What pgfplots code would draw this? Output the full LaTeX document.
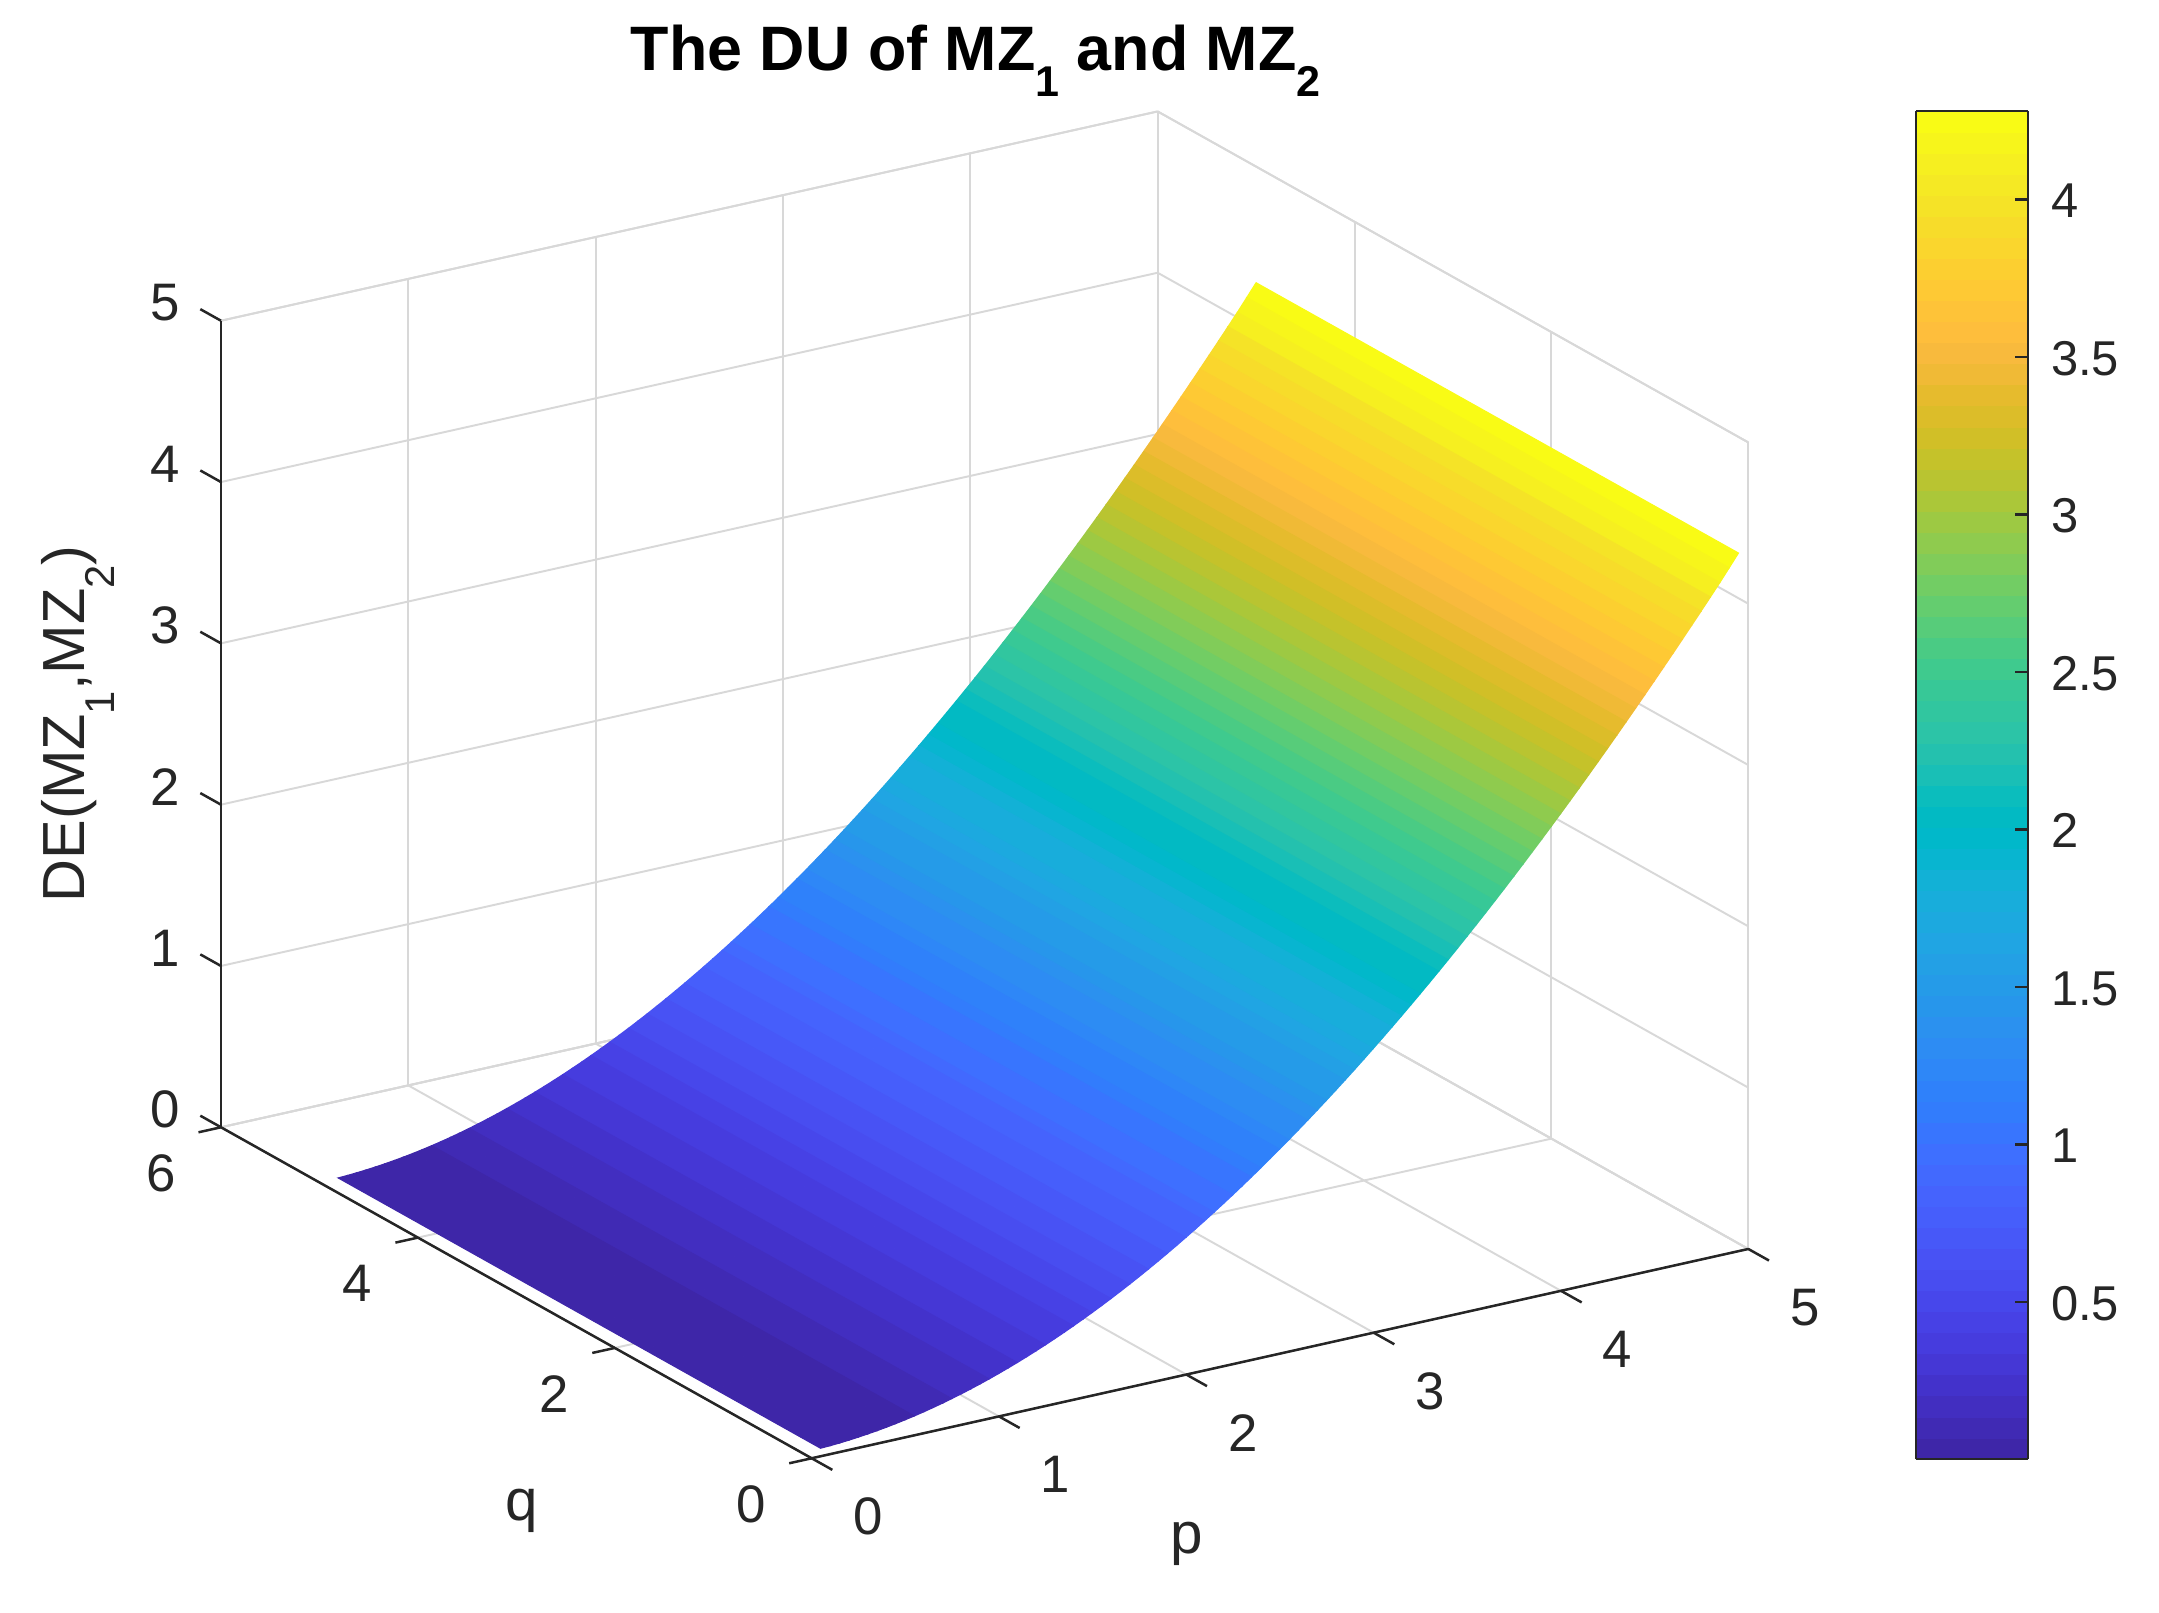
\documentclass[border=0pt]{standalone}
\usepackage{fontspec}
\setmainfont{Liberation Sans}
\usepackage{pgfplots}
\pgfplotsset{compat=1.18}
\pgfplotsset{
  colormap={parula}{
    rgb=(0.2422,0.1504,0.6603) rgb=(0.2504,0.1650,0.7076) rgb=(0.2578,0.1818,0.7511) rgb=(0.2647,0.1978,0.7952)
    rgb=(0.2706,0.2147,0.8364) rgb=(0.2751,0.2342,0.8710) rgb=(0.2783,0.2559,0.8991) rgb=(0.2803,0.2782,0.9221)
    rgb=(0.2813,0.3006,0.9414) rgb=(0.2810,0.3228,0.9579) rgb=(0.2795,0.3447,0.9717) rgb=(0.2760,0.3667,0.9829)
    rgb=(0.2699,0.3892,0.9906) rgb=(0.2602,0.4123,0.9952) rgb=(0.2440,0.4358,0.9988) rgb=(0.2206,0.4603,0.9973)
    rgb=(0.1963,0.4847,0.9892) rgb=(0.1834,0.5074,0.9798) rgb=(0.1786,0.5289,0.9682) rgb=(0.1764,0.5499,0.9520)
    rgb=(0.1687,0.5703,0.9359) rgb=(0.1540,0.5902,0.9218) rgb=(0.1460,0.6091,0.9079) rgb=(0.1380,0.6276,0.8973)
    rgb=(0.1248,0.6459,0.8883) rgb=(0.1113,0.6635,0.8763) rgb=(0.0952,0.6798,0.8598) rgb=(0.0689,0.6948,0.8394)
    rgb=(0.0297,0.7082,0.8163) rgb=(0.0036,0.7203,0.7917) rgb=(0.0067,0.7312,0.7660) rgb=(0.0433,0.7411,0.7394)
    rgb=(0.0964,0.7500,0.7120) rgb=(0.1408,0.7584,0.6842) rgb=(0.1717,0.7670,0.6554) rgb=(0.1938,0.7758,0.6251)
    rgb=(0.2161,0.7843,0.5923) rgb=(0.2470,0.7918,0.5567) rgb=(0.2906,0.7973,0.5188) rgb=(0.3406,0.8008,0.4789)
    rgb=(0.3909,0.8029,0.4354) rgb=(0.4456,0.8024,0.3909) rgb=(0.5044,0.7993,0.3480) rgb=(0.5616,0.7942,0.3045)
    rgb=(0.6174,0.7876,0.2612) rgb=(0.6720,0.7793,0.2227) rgb=(0.7242,0.7698,0.1910) rgb=(0.7738,0.7598,0.1646)
    rgb=(0.8203,0.7498,0.1535) rgb=(0.8634,0.7406,0.1596) rgb=(0.9035,0.7330,0.1774) rgb=(0.9393,0.7288,0.2100)
    rgb=(0.9728,0.7298,0.2394) rgb=(0.9956,0.7434,0.2371) rgb=(0.9970,0.7659,0.2199) rgb=(0.9952,0.7893,0.2028)
    rgb=(0.9892,0.8136,0.1885) rgb=(0.9786,0.8386,0.1766) rgb=(0.9676,0.8639,0.1643) rgb=(0.9610,0.8890,0.1537)
    rgb=(0.9597,0.9135,0.1423) rgb=(0.9628,0.9373,0.1265) rgb=(0.9691,0.9606,0.1064) rgb=(0.9769,0.9839,0.0805)
  },
  colormap access=piecewise constant
}
\definecolor{axdark}{RGB}{38,38,38}
\definecolor{gridc}{RGB}{216,216,216}
\newcommand{\tsub}[1]{\raisebox{-9.5pt}{\fontsize{15.5}{15.5}\selectfont\bfseries #1}}
\newcommand{\zsub}[1]{\raisebox{-10.5pt}{\fontsize{15}{15}\selectfont #1}}
\begin{document}
\begin{tikzpicture}
\path[use as bounding box] (0pt,0pt) rectangle (777.24pt,580.68pt);
\begin{axis}[
  at={(292.2pt,55.7pt)}, anchor=origin,
  x={(67.44pt,15.07pt)}, y={(-35.44pt,19.86pt)}, z={(0pt,58.07pt)},
  xmin=0, xmax=5, ymin=0, ymax=6, zmin=0, zmax=5,
  clip=false,
  colormap name=parula,
  point meta min=0.002, point meta max=4.28,
  xtick={0,1,2,3,4,5}, ytick={0,2,4,6}, ztick={0,1,2,3,4,5},
  major tick length=0pt,
  grid=major,
  grid style={draw=gridc, line width=0.7pt},
  axis line style={draw=gridc, line width=0.7pt},
  /pgf/number format/assume math mode=true,
  every tick label/.append style={font=\fontsize{19}{19}\selectfont, text=axdark},
  xticklabel style={anchor=center, xshift=20.3pt, yshift=-21pt},
  yticklabel style={anchor=center, xshift=-21.7pt, yshift=-16.5pt},
  zticklabel style={anchor=center, xshift=-20pt, yshift=6.4pt},
  xlabel={p}, ylabel={q}, zlabel={DE(MZ\zsub{1},MZ\zsub{2})},
  xlabel style={at={(axis cs:2,0,0)}, anchor=center, yshift=-61.1pt, font=\fontsize{21}{21}\selectfont, text=axdark},
  ylabel style={at={(axis cs:0,3,0)}, anchor=center, xshift=1.8pt, yshift=-78.5pt, font=\fontsize{21}{21}\selectfont, text=axdark},
  zlabel style={at={(axis cs:0,6,2.5)}, anchor=base, yshift=49pt, font=\fontsize{21.4}{21.4}\selectfont, text=axdark},
  title={\bfseries The DU of MZ\tsub{1} and MZ\tsub{2}},
  title style={at={(axis cs:5,6,5)}, anchor=base, xshift=-65.5pt, yshift=8.7pt, font=\fontsize{22.6}{22.6}\selectfont},
]
\addplot3[surf, shader=flat mean, mesh/rows=99, mesh/cols=2, point meta=z] coordinates {
(0.10,0.1,0.0020) (0.10,5,0.0020)
(0.15,0.1,0.0045) (0.15,5,0.0045)
(0.20,0.1,0.0081) (0.20,5,0.0081)
(0.25,0.1,0.0127) (0.25,5,0.0127)
(0.30,0.1,0.0183) (0.30,5,0.0183)
(0.35,0.1,0.0249) (0.35,5,0.0249)
(0.40,0.1,0.0324) (0.40,5,0.0324)
(0.45,0.1,0.0409) (0.45,5,0.0409)
(0.50,0.1,0.0504) (0.50,5,0.0504)
(0.55,0.1,0.0609) (0.55,5,0.0609)
(0.60,0.1,0.0723) (0.60,5,0.0723)
(0.65,0.1,0.0847) (0.65,5,0.0847)
(0.70,0.1,0.0981) (0.70,5,0.0981)
(0.75,0.1,0.1124) (0.75,5,0.1124)
(0.80,0.1,0.1277) (0.80,5,0.1277)
(0.85,0.1,0.1439) (0.85,5,0.1439)
(0.90,0.1,0.1611) (0.90,5,0.1611)
(0.95,0.1,0.1792) (0.95,5,0.1792)
(1.00,0.1,0.1982) (1.00,5,0.1982)
(1.05,0.1,0.2182) (1.05,5,0.2182)
(1.10,0.1,0.2390) (1.10,5,0.2390)
(1.15,0.1,0.2608) (1.15,5,0.2608)
(1.20,0.1,0.2835) (1.20,5,0.2835)
(1.25,0.1,0.3071) (1.25,5,0.3071)
(1.30,0.1,0.3315) (1.30,5,0.3315)
(1.35,0.1,0.3569) (1.35,5,0.3569)
(1.40,0.1,0.3831) (1.40,5,0.3831)
(1.45,0.1,0.4103) (1.45,5,0.4103)
(1.50,0.1,0.4383) (1.50,5,0.4383)
(1.55,0.1,0.4672) (1.55,5,0.4672)
(1.60,0.1,0.4969) (1.60,5,0.4969)
(1.65,0.1,0.5275) (1.65,5,0.5275)
(1.70,0.1,0.5590) (1.70,5,0.5590)
(1.75,0.1,0.5913) (1.75,5,0.5913)
(1.80,0.1,0.6245) (1.80,5,0.6245)
(1.85,0.1,0.6585) (1.85,5,0.6585)
(1.90,0.1,0.6934) (1.90,5,0.6934)
(1.95,0.1,0.7291) (1.95,5,0.7291)
(2.00,0.1,0.7656) (2.00,5,0.7656)
(2.05,0.1,0.8030) (2.05,5,0.8030)
(2.10,0.1,0.8411) (2.10,5,0.8411)
(2.15,0.1,0.8800) (2.15,5,0.8800)
(2.20,0.1,0.9198) (2.20,5,0.9198)
(2.25,0.1,0.9604) (2.25,5,0.9604)
(2.30,0.1,1.0017) (2.30,5,1.0017)
(2.35,0.1,1.0439) (2.35,5,1.0439)
(2.40,0.1,1.0868) (2.40,5,1.0868)
(2.45,0.1,1.1305) (2.45,5,1.1305)
(2.50,0.1,1.1750) (2.50,5,1.1750)
(2.55,0.1,1.2203) (2.55,5,1.2203)
(2.60,0.1,1.2663) (2.60,5,1.2663)
(2.65,0.1,1.3131) (2.65,5,1.3131)
(2.70,0.1,1.3606) (2.70,5,1.3606)
(2.75,0.1,1.4089) (2.75,5,1.4089)
(2.80,0.1,1.4579) (2.80,5,1.4579)
(2.85,0.1,1.5077) (2.85,5,1.5077)
(2.90,0.1,1.5582) (2.90,5,1.5582)
(2.95,0.1,1.6094) (2.95,5,1.6094)
(3.00,0.1,1.6614) (3.00,5,1.6614)
(3.05,0.1,1.7141) (3.05,5,1.7141)
(3.10,0.1,1.7675) (3.10,5,1.7675)
(3.15,0.1,1.8216) (3.15,5,1.8216)
(3.20,0.1,1.8764) (3.20,5,1.8764)
(3.25,0.1,1.9319) (3.25,5,1.9319)
(3.30,0.1,1.9881) (3.30,5,1.9881)
(3.35,0.1,2.0450) (3.35,5,2.0450)
(3.40,0.1,2.1025) (3.40,5,2.1025)
(3.45,0.1,2.1608) (3.45,5,2.1608)
(3.50,0.1,2.2197) (3.50,5,2.2197)
(3.55,0.1,2.2793) (3.55,5,2.2793)
(3.60,0.1,2.3395) (3.60,5,2.3395)
(3.65,0.1,2.4004) (3.65,5,2.4004)
(3.70,0.1,2.4620) (3.70,5,2.4620)
(3.75,0.1,2.5242) (3.75,5,2.5242)
(3.80,0.1,2.5871) (3.80,5,2.5871)
(3.85,0.1,2.6506) (3.85,5,2.6506)
(3.90,0.1,2.7147) (3.90,5,2.7147)
(3.95,0.1,2.7794) (3.95,5,2.7794)
(4.00,0.1,2.8448) (4.00,5,2.8448)
(4.05,0.1,2.9108) (4.05,5,2.9108)
(4.10,0.1,2.9774) (4.10,5,2.9774)
(4.15,0.1,3.0446) (4.15,5,3.0446)
(4.20,0.1,3.1124) (4.20,5,3.1124)
(4.25,0.1,3.1808) (4.25,5,3.1808)
(4.30,0.1,3.2498) (4.30,5,3.2498)
(4.35,0.1,3.3194) (4.35,5,3.3194)
(4.40,0.1,3.3896) (4.40,5,3.3896)
(4.45,0.1,3.4603) (4.45,5,3.4603)
(4.50,0.1,3.5316) (4.50,5,3.5316)
(4.55,0.1,3.6035) (4.55,5,3.6035)
(4.60,0.1,3.6759) (4.60,5,3.6759)
(4.65,0.1,3.7489) (4.65,5,3.7489)
(4.70,0.1,3.8225) (4.70,5,3.8225)
(4.75,0.1,3.8966) (4.75,5,3.8966)
(4.80,0.1,3.9712) (4.80,5,3.9712)
(4.85,0.1,4.0463) (4.85,5,4.0463)
(4.90,0.1,4.1220) (4.90,5,4.1220)
(4.95,0.1,4.2007) (4.95,5,4.2007)
(5.00,0.1,4.2800) (5.00,5,4.2800)
};
% dark axis rulers and outward ticks
\draw[axdark, line width=0.9pt, line cap=round] (axis cs:0,6,0) -- (axis cs:0,0,0) -- (axis cs:5,0,0);
\draw[axdark, line width=0.9pt] (axis cs:0,6,0) -- (axis cs:0,6,5);
\pgfplotsinvokeforeach{0,1,2,3,4,5}{\draw[axdark, line width=0.9pt] (axis cs:#1,0,0) -- (axis cs:#1,-0.21,0);}
\pgfplotsinvokeforeach{0,2,4,6}{\draw[axdark, line width=0.9pt] (axis cs:0,#1,0) -- (axis cs:-0.12,#1,0);}
\pgfplotsinvokeforeach{0,1,2,3,4,5}{\draw[axdark, line width=0.9pt] (axis cs:0,6,#1) -- (axis cs:0,6.21,#1);}
\end{axis}
\begin{axis}[
  at={(689.8pt,55.4pt)}, anchor=south west,
  scale only axis, width=40.3pt, height=485.3pt,
  view={0}{90},
  xmin=0, xmax=1, ymin=0.002, ymax=4.28,
  colormap name=parula,
  point meta min=0.002, point meta max=4.28,
  xtick=\empty,
  ytick={0.5,1,1.5,2,2.5,3,3.5,4},
  yticklabels={0.5,1,1.5,2,2.5,3,3.5,4},
  ytick pos=right, yticklabel pos=right,
  tick align=inside,
  major tick length=4.7pt,
  tick style={axdark, line width=0.9pt},
  axis line style={axdark, line width=0.9pt},
  axis on top,
  yticklabel style={font=\fontsize{17.6}{17.6}\selectfont, text=axdark, xshift=4.8pt, yshift=-0.5pt},
]
\addplot3[surf, shader=flat mean, mesh/rows=65, mesh/cols=2, point meta=y] coordinates {
(0,0.002,0) (1,0.002,0)
(0,0.0688,0) (1,0.0688,0)
(0,0.1357,0) (1,0.1357,0)
(0,0.2025,0) (1,0.2025,0)
(0,0.2694,0) (1,0.2694,0)
(0,0.3362,0) (1,0.3362,0)
(0,0.4031,0) (1,0.4031,0)
(0,0.4699,0) (1,0.4699,0)
(0,0.5368,0) (1,0.5368,0)
(0,0.6036,0) (1,0.6036,0)
(0,0.6704,0) (1,0.6704,0)
(0,0.7373,0) (1,0.7373,0)
(0,0.8041,0) (1,0.8041,0)
(0,0.8710,0) (1,0.8710,0)
(0,0.9378,0) (1,0.9378,0)
(0,1.0047,0) (1,1.0047,0)
(0,1.0715,0) (1,1.0715,0)
(0,1.1384,0) (1,1.1384,0)
(0,1.2052,0) (1,1.2052,0)
(0,1.2720,0) (1,1.2720,0)
(0,1.3389,0) (1,1.3389,0)
(0,1.4057,0) (1,1.4057,0)
(0,1.4726,0) (1,1.4726,0)
(0,1.5394,0) (1,1.5394,0)
(0,1.6063,0) (1,1.6063,0)
(0,1.6731,0) (1,1.6731,0)
(0,1.7399,0) (1,1.7399,0)
(0,1.8068,0) (1,1.8068,0)
(0,1.8736,0) (1,1.8736,0)
(0,1.9405,0) (1,1.9405,0)
(0,2.0073,0) (1,2.0073,0)
(0,2.0742,0) (1,2.0742,0)
(0,2.1410,0) (1,2.1410,0)
(0,2.2079,0) (1,2.2079,0)
(0,2.2747,0) (1,2.2747,0)
(0,2.3415,0) (1,2.3415,0)
(0,2.4084,0) (1,2.4084,0)
(0,2.4752,0) (1,2.4752,0)
(0,2.5421,0) (1,2.5421,0)
(0,2.6089,0) (1,2.6089,0)
(0,2.6758,0) (1,2.6758,0)
(0,2.7426,0) (1,2.7426,0)
(0,2.8094,0) (1,2.8094,0)
(0,2.8763,0) (1,2.8763,0)
(0,2.9431,0) (1,2.9431,0)
(0,3.0100,0) (1,3.0100,0)
(0,3.0768,0) (1,3.0768,0)
(0,3.1437,0) (1,3.1437,0)
(0,3.2105,0) (1,3.2105,0)
(0,3.2774,0) (1,3.2774,0)
(0,3.3442,0) (1,3.3442,0)
(0,3.4110,0) (1,3.4110,0)
(0,3.4779,0) (1,3.4779,0)
(0,3.5447,0) (1,3.5447,0)
(0,3.6116,0) (1,3.6116,0)
(0,3.6784,0) (1,3.6784,0)
(0,3.7453,0) (1,3.7453,0)
(0,3.8121,0) (1,3.8121,0)
(0,3.8790,0) (1,3.8790,0)
(0,3.9458,0) (1,3.9458,0)
(0,4.0126,0) (1,4.0126,0)
(0,4.0795,0) (1,4.0795,0)
(0,4.1463,0) (1,4.1463,0)
(0,4.2132,0) (1,4.2132,0)
(0,4.28,0) (1,4.28,0)
};
\end{axis}
\end{tikzpicture}
\end{document}
